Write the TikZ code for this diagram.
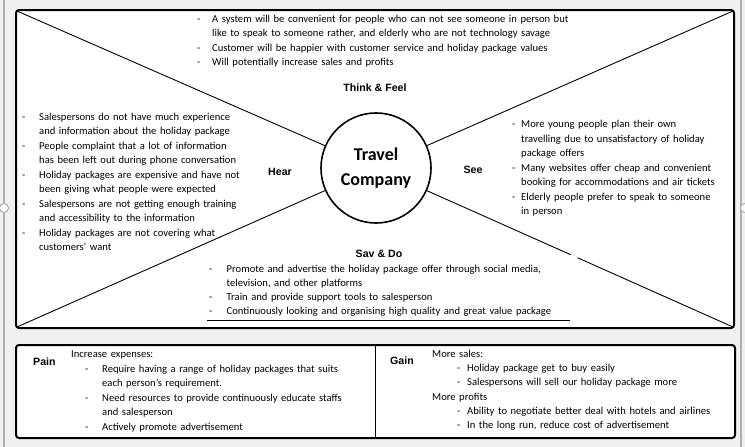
\documentclass[tikz,border=0pt]{standalone}
\usepackage{fontspec}
\setmainfont{Carlito}
\newfontfamily\arialf{Liberation Sans}
\definecolor{bg}{RGB}{240,240,240}
\definecolor{hgray}{RGB}{175,175,175}
\newcommand\dsh[1]{\makebox[#1][l]{-}}
\newcommand\ind[1]{\hspace*{#1}}
\tikzset{
  lbl/.style={font=\arialf\bfseries\fontsize{10.6}{12}\selectfont, inner sep=0pt},
  body/.style={font=\fontsize{10.6}{14.5}\selectfont, inner sep=0pt, anchor=base west, align=left, text width=#1},
  frame/.style={draw=black, line width=2pt, rounded corners=3pt, fill=white},
  diag/.style={draw=black, line width=0.9pt},
  handle/.style={circle, draw=hgray, fill=white, line width=1pt, minimum size=9pt, inner sep=0pt},
}
\begin{document}
\begin{tikzpicture}[x=1pt,y=-1pt]
\path[use as bounding box, fill=bg] (0,0) rectangle (745,447);
% side selection lines and handles
\draw[hgray, line width=1.2pt] (4,0) -- (4,447);
\draw[hgray, line width=1.2pt] (741,0) -- (741,447);
\node[handle] (hl) at (4,208) {};
\node[handle] (hr) at (745,208) {};
% main frame
\draw[frame] (16,10) rectangle (734,328);
\coordinate (tl) at (17,11);
\coordinate (tr) at (733,11);
\coordinate (bl) at (17,327);
\coordinate (br) at (733,327);
\node[circle, draw=black, line width=1.6pt, fill=white, minimum size=110pt, inner sep=0pt,
      align=center, font=\bfseries\fontsize{18}{25}\selectfont] (tc) at (376,168) {Travel\\Company};
\draw[diag] (tl) -- (tc);
\draw[diag] (tr) -- (tc);
\draw[diag] (bl) -- (tc);
\draw[diag] (br) -- (tc);
\draw[white, line width=2.2pt] (570.5,255.1) -- (577.5,258.2);
% labels
\node[lbl] (tf) at (375,88) {Think \& Feel};
\node[lbl] (hear) at (280,171.5) {Hear};
\node[lbl] (see) at (473,169.5) {See};
\node[lbl] (sd) at (379,254) {Sav \& Do};
% think & feel text
\node[body=400pt] (tft) at (197,22) {%
\dsh{15pt}A system will be convenient for people who can not see someone in person but\\
\ind{15pt}like to speak to someone rather, and elderly who are not technology savage\\
\dsh{15pt}Customer will be happier with customer service and holiday package values\\
\dsh{15pt}Will potentially increase sales and profits};
% hear text
\node[body=216pt] (ht) at (22,120) {%
\dsh{17pt}\makebox[199pt][s]{Salespersons do not have much experience}\\
\ind{17pt}and information about the holiday package\\
\dsh{17pt}\makebox[199pt][s]{People complaint that a lot of information}\\
\ind{17pt}\makebox[199pt][s]{has been left out during phone conversation}\\
\dsh{17pt}\makebox[199pt][s]{Holiday packages are expensive and have not}\\
\ind{17pt}been giving what people were expected\\
\dsh{17pt}\makebox[199pt][s]{Salespersons are not getting enough training}\\
\ind{17pt}and accessibility to the information\\
\dsh{17pt}\makebox[199pt][s]{Holiday packages are not covering what}\\
\ind{17pt}customers’ want};
% see text
\node[body=215pt] (st) at (512,127.8) {%
\dsh{9pt}More young people plan their own\\
\ind{9pt}travelling due to unsatisfactory of holiday\\
\ind{9pt}package offers\\
\dsh{9pt}Many websites offer cheap and convenient\\
\ind{9pt}booking for accommodations and air tickets\\
\dsh{9pt}Elderly people prefer to speak to someone\\
\ind{9pt}in person};
% say & do text
\node[body=380pt, font=\fontsize{10.6}{14.3}\selectfont] (sdt) at (209,272) {%
\dsh{17.5pt}Promote and advertise the holiday package offer through social media,\\
\ind{17.5pt}television, and other platforms\\
\dsh{17.5pt}Train and provide support tools to salesperson\\
\dsh{17.5pt}Continuously looking and organising high quality and great value package};
\coordinate (ul1) at (207,320);
\coordinate (ul2) at (570,320);
\draw[line width=0.9pt] (ul1) -- (ul2);
% bottom frame
\draw[frame] (16,345) rectangle (735,438);
\coordinate (dv1) at (375,345);
\coordinate (dv2) at (375,438);
\draw[line width=1pt] (dv1) -- (dv2);
\node[lbl, anchor=west] (pain) at (33,362) {Pain};
\node[lbl, anchor=west] (gain) at (390,361) {Gain};
\node[body=300pt] (pt) at (71,357.5) {%
Increase expenses:\\
\ind{14pt}\dsh{17pt}Require having a range of holiday packages that suits\\
\ind{31pt}each person’s requirement.\\
\ind{14pt}\dsh{17pt}Need resources to provide continuously educate staffs\\
\ind{31pt}and salesperson\\
\ind{14pt}\dsh{17pt}Actively promote advertisement};
\node[body=300pt, font=\fontsize{10.6}{14.2}\selectfont] (gt) at (432,357.5) {%
More sales:\\
\ind{25pt}\dsh{10pt}Holiday package get to buy easily\\
\ind{25pt}\dsh{10pt}Salespersons will sell our holiday package more\\
More profits\\
\ind{25pt}\dsh{10pt}Ability to negotiate better deal with hotels and airlines\\
\ind{25pt}\dsh{10pt}In the long run, reduce cost of advertisement};
\end{tikzpicture}
\end{document}
